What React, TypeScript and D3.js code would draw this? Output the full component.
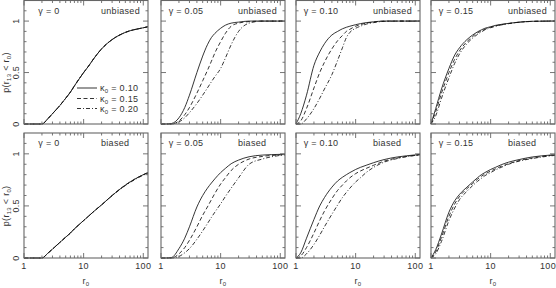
import React, { useEffect, useRef } from "react";
import * as d3 from "d3";

// r0 grid shared by all curves
const R0 = [1, 1.2, 1.5, 2, 2.5, 3, 4, 5, 6, 7, 8, 10, 12, 15, 20, 30, 50, 100, 120];

// unbiased, gamma = 0 (all kappa coincide)
const unbG0 = [0, 0, 0, 0, 0.05, 0.1, 0.18, 0.25, 0.31, 0.37, 0.42, 0.5, 0.56, 0.64, 0.73, 0.82, 0.89, 0.935, 0.945];
// unbiased, gamma = 0.05
const unbG05k10 = [0, 0, 0.005, 0.06, 0.16, 0.28, 0.5, 0.66, 0.77, 0.84, 0.88, 0.93, 0.96, 0.98, 0.99, 1, 1, 1, 1];
const unbG05k15 = [0, 0, 0, 0.03, 0.09, 0.16, 0.3, 0.42, 0.52, 0.61, 0.69, 0.8, 0.88, 0.95, 0.98, 0.995, 1, 1, 1];
const unbG05k20 = [0, 0, 0, 0.02, 0.06, 0.11, 0.2, 0.28, 0.35, 0.41, 0.46, 0.54, 0.64, 0.77, 0.9, 0.98, 1, 1, 1];
// unbiased, gamma = 0.10
const unbG10k10 = [0, 0.1, 0.28, 0.57, 0.7, 0.78, 0.865, 0.9, 0.925, 0.94, 0.95, 0.965, 0.975, 0.985, 0.993, 1, 1, 1, 1];
const unbG10k15 = [0, 0.03, 0.15, 0.35, 0.5, 0.6, 0.73, 0.81, 0.86, 0.9, 0.92, 0.95, 0.965, 0.98, 0.99, 1, 1, 1, 1];
const unbG10k20 = [0, 0, 0.05, 0.15, 0.25, 0.34, 0.48, 0.62, 0.74, 0.84, 0.89, 0.93, 0.95, 0.97, 0.985, 0.997, 1, 1, 1];
// unbiased, gamma = 0.15
const unbG15k10 = [0, 0.15, 0.34, 0.54, 0.67, 0.74, 0.82, 0.865, 0.895, 0.915, 0.93, 0.945, 0.958, 0.968, 0.978, 0.99, 0.998, 1, 1];
const unbG15k15 = [0, 0.12, 0.3, 0.5, 0.63, 0.71, 0.8, 0.85, 0.885, 0.905, 0.92, 0.94, 0.953, 0.965, 0.976, 0.989, 0.997, 1, 1];
const unbG15k20 = [0, 0.08, 0.25, 0.45, 0.59, 0.68, 0.78, 0.835, 0.87, 0.895, 0.915, 0.935, 0.95, 0.962, 0.975, 0.988, 0.997, 1, 1];

// biased, gamma = 0
const biaG0k10 = [0, 0, 0, 0, 0.045, 0.085, 0.15, 0.2, 0.24, 0.28, 0.31, 0.36, 0.4, 0.45, 0.51, 0.6, 0.7, 0.8, 0.82];
const biaG0k20 = [0, 0, 0, 0, 0.045, 0.085, 0.15, 0.2, 0.24, 0.28, 0.31, 0.36, 0.4, 0.45, 0.51, 0.598, 0.695, 0.795, 0.815];
// biased, gamma = 0.05
const biaG05k10 = [0, 0, 0.005, 0.09, 0.19, 0.3, 0.49, 0.6, 0.67, 0.72, 0.76, 0.82, 0.86, 0.905, 0.94, 0.972, 0.988, 0.995, 0.997];
const biaG05k15 = [0, 0, 0, 0.04, 0.1, 0.17, 0.3, 0.41, 0.49, 0.56, 0.62, 0.71, 0.77, 0.84, 0.9, 0.95, 0.975, 0.99, 0.993];
const biaG05k20 = [0, 0, 0, 0.015, 0.05, 0.09, 0.18, 0.26, 0.33, 0.39, 0.44, 0.52, 0.59, 0.67, 0.77, 0.9, 0.95, 0.985, 0.99];
// biased, gamma = 0.10
const biaG10k10 = [0, 0.05, 0.19, 0.37, 0.5, 0.58, 0.68, 0.74, 0.775, 0.8, 0.82, 0.85, 0.87, 0.89, 0.915, 0.945, 0.97, 0.99, 0.995];
const biaG10k15 = [0, 0.02, 0.1, 0.24, 0.36, 0.45, 0.57, 0.65, 0.7, 0.74, 0.77, 0.81, 0.835, 0.86, 0.89, 0.93, 0.96, 0.985, 0.99];
const biaG10k20 = [0, 0, 0.04, 0.13, 0.22, 0.3, 0.42, 0.51, 0.58, 0.63, 0.67, 0.73, 0.77, 0.82, 0.87, 0.92, 0.955, 0.985, 0.99];
// biased, gamma = 0.15
const biaG15k10 = [0, 0.08, 0.23, 0.44, 0.55, 0.61, 0.68, 0.73, 0.77, 0.8, 0.82, 0.85, 0.87, 0.895, 0.92, 0.945, 0.97, 0.988, 0.992];
const biaG15k15 = [0, 0.06, 0.2, 0.4, 0.52, 0.59, 0.665, 0.715, 0.755, 0.785, 0.805, 0.835, 0.855, 0.88, 0.905, 0.935, 0.96, 0.985, 0.99];
const biaG15k20 = [0, 0.04, 0.16, 0.36, 0.48, 0.56, 0.64, 0.695, 0.735, 0.765, 0.79, 0.82, 0.845, 0.87, 0.9, 0.93, 0.955, 0.98, 0.985];

const gammaLabels = ["0", "0.05", "0.10", "0.15"];
const kappaLabels = ["0.10", "0.15", "0.20"];
const rowLabels = ["unbiased", "biased"];
const xTickLabels = ["1", "10", "100"];
const yTickLabels = ["0", "0.5", "1"];

const panels = [
  [unbG0, unbG0, unbG0],
  [unbG05k10, unbG05k15, unbG05k20],
  [unbG10k10, unbG10k15, unbG10k20],
  [unbG15k10, unbG15k15, unbG15k20],
  [biaG0k10, biaG0k10, biaG0k20],
  [biaG05k10, biaG05k15, biaG05k20],
  [biaG10k10, biaG10k15, biaG10k20],
  [biaG15k10, biaG15k15, biaG15k20],
];

const dashes = [null, "4,2.5", "4,2,1,2"];

const App = () => {
  const ref = useRef<SVGSVGElement>(null);

  useEffect(() => {
    document.body.style.margin = "0";
    const svg = d3.select(ref.current);
    svg.selectAll("*").remove();

    const lefts = [24, 161, 296, 431];
    const w = 124;
    const tops = [0.5, 133];
    const h = [123.5, 125];
    const font = "'Liberation Sans', Arial, sans-serif";
    const fs = "9px";
    const sub = "6px";
    const ink = "#333";
    const frame = "#666";

    const addText = (g: any, px: number, py: number) =>
      g.append("text")
        .attr("x", px).attr("y", py)
        .style("font-family", font).style("font-size", fs).style("fill", ink)
        .style("letter-spacing", "0.3px");

    panels.forEach((series, pi) => {
      const row = Math.floor(pi / 4);
      const col = pi % 4;
      const x0 = lefts[col];
      const y0 = tops[row];
      const x = d3.scaleLog().domain([1, 120]).range([x0, x0 + w]);
      const y = d3.scaleLinear().domain([0, 1.2]).range([y0 + h[row], y0]);

      const g = svg.append("g");

      // curves
      const line = d3.line<number>()
        .x((d, i) => x(R0[i]))
        .y((d) => y(d))
        .curve(d3.curveMonotoneX);
      series.slice().reverse().forEach((vals, ri) => {
        const k = 2 - ri;
        g.append("path")
          .attr("d", line(vals))
          .attr("fill", "none")
          .attr("stroke", "#111")
          .attr("stroke-width", 0.85)
          .attr("stroke-dasharray", dashes[k]);
      });

      // frame
      g.append("rect")
        .attr("x", x0).attr("y", y0)
        .attr("width", w).attr("height", h[row])
        .attr("fill", "none").attr("stroke", frame).attr("stroke-width", 1.1);

      // x ticks (log)
      const xt: number[] = [];
      [1, 10, 100].forEach((d) => {
        for (let m = 1; m < 10; m++) if (d * m <= 120) xt.push(d * m);
      });
      xt.forEach((v) => {
        const major = [1, 10, 100].includes(v);
        const len = major ? 5 : 2.5;
        const px = x(v);
        g.append("line").attr("x1", px).attr("x2", px)
          .attr("y1", y0 + h[row]).attr("y2", y0 + h[row] - len)
          .attr("stroke", frame).attr("stroke-width", 0.9);
        g.append("line").attr("x1", px).attr("x2", px)
          .attr("y1", y0).attr("y2", y0 + len)
          .attr("stroke", frame).attr("stroke-width", 0.9);
      });

      // y ticks
      d3.range(0, 12).forEach((i) => {
        const v = i / 10;
        const major = i % 5 === 0;
        const len = major ? 5 : 2.5;
        const py = y(v);
        g.append("line").attr("x1", x0).attr("x2", x0 + len)
          .attr("y1", py).attr("y2", py)
          .attr("stroke", frame).attr("stroke-width", 0.9);
        g.append("line").attr("x1", x0 + w).attr("x2", x0 + w - len)
          .attr("y1", py).attr("y2", py)
          .attr("stroke", frame).attr("stroke-width", 0.9);
      });

      // panel labels
      addText(g, x0 + 25, y0 + 13)
        .attr("text-anchor", "middle")
        .text(`γ = ${gammaLabels[col]}`);
      addText(g, x0 + 77, y0 + 13).text(rowLabels[row]);

      // y tick labels + y title on first column
      if (col === 0) {
        [0, 0.5, 1].forEach((v, i) => {
          addText(g, 0, 0)
            .attr("transform", `translate(18.5,${y(v)}) rotate(-90)`)
            .attr("text-anchor", "middle")
            .text(yTickLabels[i]);
        });
        const t = addText(g, 0, 0)
          .attr("transform", `translate(8.5,${y(0.5)}) rotate(-90)`)
          .attr("text-anchor", "middle");
        t.append("tspan").text("p(r");
        t.append("tspan").attr("dy", 2).style("font-size", sub).text("13");
        t.append("tspan").attr("dy", -2).text(" < r");
        t.append("tspan").attr("dy", 2).style("font-size", sub).text("0");
        t.append("tspan").attr("dy", -2).text(")");
      }

      // x tick labels + x title on bottom row
      if (row === 1) {
        [1, 10, 100].forEach((v, i) => {
          const px = Math.min(x(v), 548);
          addText(g, px, 268.5)
            .attr("text-anchor", "middle")
            .text(xTickLabels[i]);
        });
        const t = addText(g, x0 + w / 2, 284).attr("text-anchor", "middle");
        t.append("tspan").text("r");
        t.append("tspan").attr("dy", 2).style("font-size", sub).text("0");
      }

      // legend in first panel
      if (pi === 0) {
        [88, 98.5, 108.5].forEach((ly, k) => {
          g.append("line")
            .attr("x1", 77).attr("x2", 97).attr("y1", ly).attr("y2", ly)
            .attr("stroke", "#111").attr("stroke-width", 0.85)
            .attr("stroke-dasharray", dashes[k]);
          const t = addText(g, 100, ly + 3);
          t.append("tspan").text("κ");
          t.append("tspan").attr("dy", 2).style("font-size", sub).text("0");
          t.append("tspan").attr("dy", -2).text(` = ${kappaLabels[k]}`);
        });
      }
    });
  }, []);

  return <svg ref={ref} width={556} height={288} style={{ display: "block", background: "#fff" }} />;
};

export default App;
